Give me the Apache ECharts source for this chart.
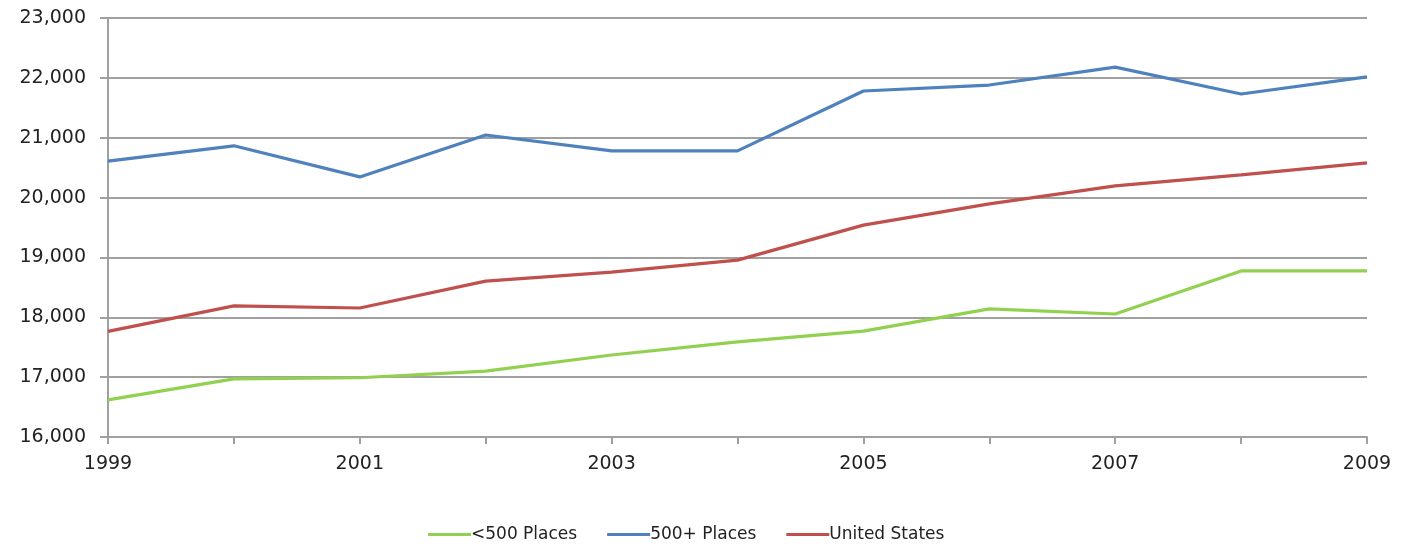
<!DOCTYPE html>
<html>
<head>
<meta charset="utf-8">
<script src="https://cdn.jsdelivr.net/npm/echarts@6/dist/echarts.min.js"></script>
<style>
  html, body { margin: 0; padding: 0; background: #fff; }
  #chart { width: 1413px; height: 546px; }
</style>
</head>
<body>
<div id="chart"></div>
<script>
const years = ['1999', '2000', '2001', '2002', '2003', '2004', '2005', '2006', '2007', '2008', '2009']
const smallPlaces = [16620, 16970, 16990, 17100, 17370, 17590, 17770, 18140, 18055, 18775, 18775]
const largePlaces = [20610, 20865, 20345, 21045, 20780, 20780, 21780, 21880, 22180, 21730, 22015]
const unitedStates = [17765, 18190, 18155, 18605, 18755, 18955, 19540, 19895, 20195, 20380, 20580]

const labelFont = 'DejaVu Sans'
const chart = echarts.init(document.getElementById('chart'))

function lineSeries(name, data, color) {
  return {
    name,
    type: 'line',
    data,
    symbol: 'none',
    animation: false,
    lineStyle: { color, width: 3.2 },
    itemStyle: { color }
  }
}

chart.setOption({
  backgroundColor: '#fff',
  animation: false,
  grid: { left: 108, right: 46, top: 18, bottom: 109 },
  legend: {
    top: 526,
    left: 428,
    padding: 0,
    icon: 'rect',
    itemWidth: 43,
    itemHeight: 3,
    itemGap: 30,
    textStyle: { color: '#222', fontSize: 17, fontFamily: labelFont, padding: [0, 0, 0, -5] },
    data: ['<500 Places', '500+ Places', 'United States']
  },
  xAxis: {
    type: 'category',
    data: years,
    boundaryGap: false,
    axisLine: { lineStyle: { color: '#a0a0a0', width: 2 } },
    axisTick: { show: true, length: 7, interval: 0, lineStyle: { color: '#a0a0a0', width: 2 } },
    axisLabel: { color: '#222', fontSize: 19, fontFamily: labelFont, margin: 18, interval: 1 },
    splitLine: { show: false }
  },
  yAxis: {
    type: 'value',
    min: 16000,
    max: 23000,
    interval: 1000,
    axisLine: { show: true, lineStyle: { color: '#a0a0a0', width: 2 } },
    axisTick: { show: true, length: 8, lineStyle: { color: '#a0a0a0', width: 2 } },
    axisLabel: {
      color: '#222',
      fontSize: 19,
      fontFamily: labelFont,
      margin: 22,
      formatter: v => v.toLocaleString('en-US')
    },
    splitLine: { lineStyle: { color: '#a0a0a0', width: 2 } }
  },
  series: [
    lineSeries('<500 Places', smallPlaces, '#92d050'),
    lineSeries('500+ Places', largePlaces, '#4f81bd'),
    lineSeries('United States', unitedStates, '#c0504d')
  ]
})
</script>
</body>
</html>
